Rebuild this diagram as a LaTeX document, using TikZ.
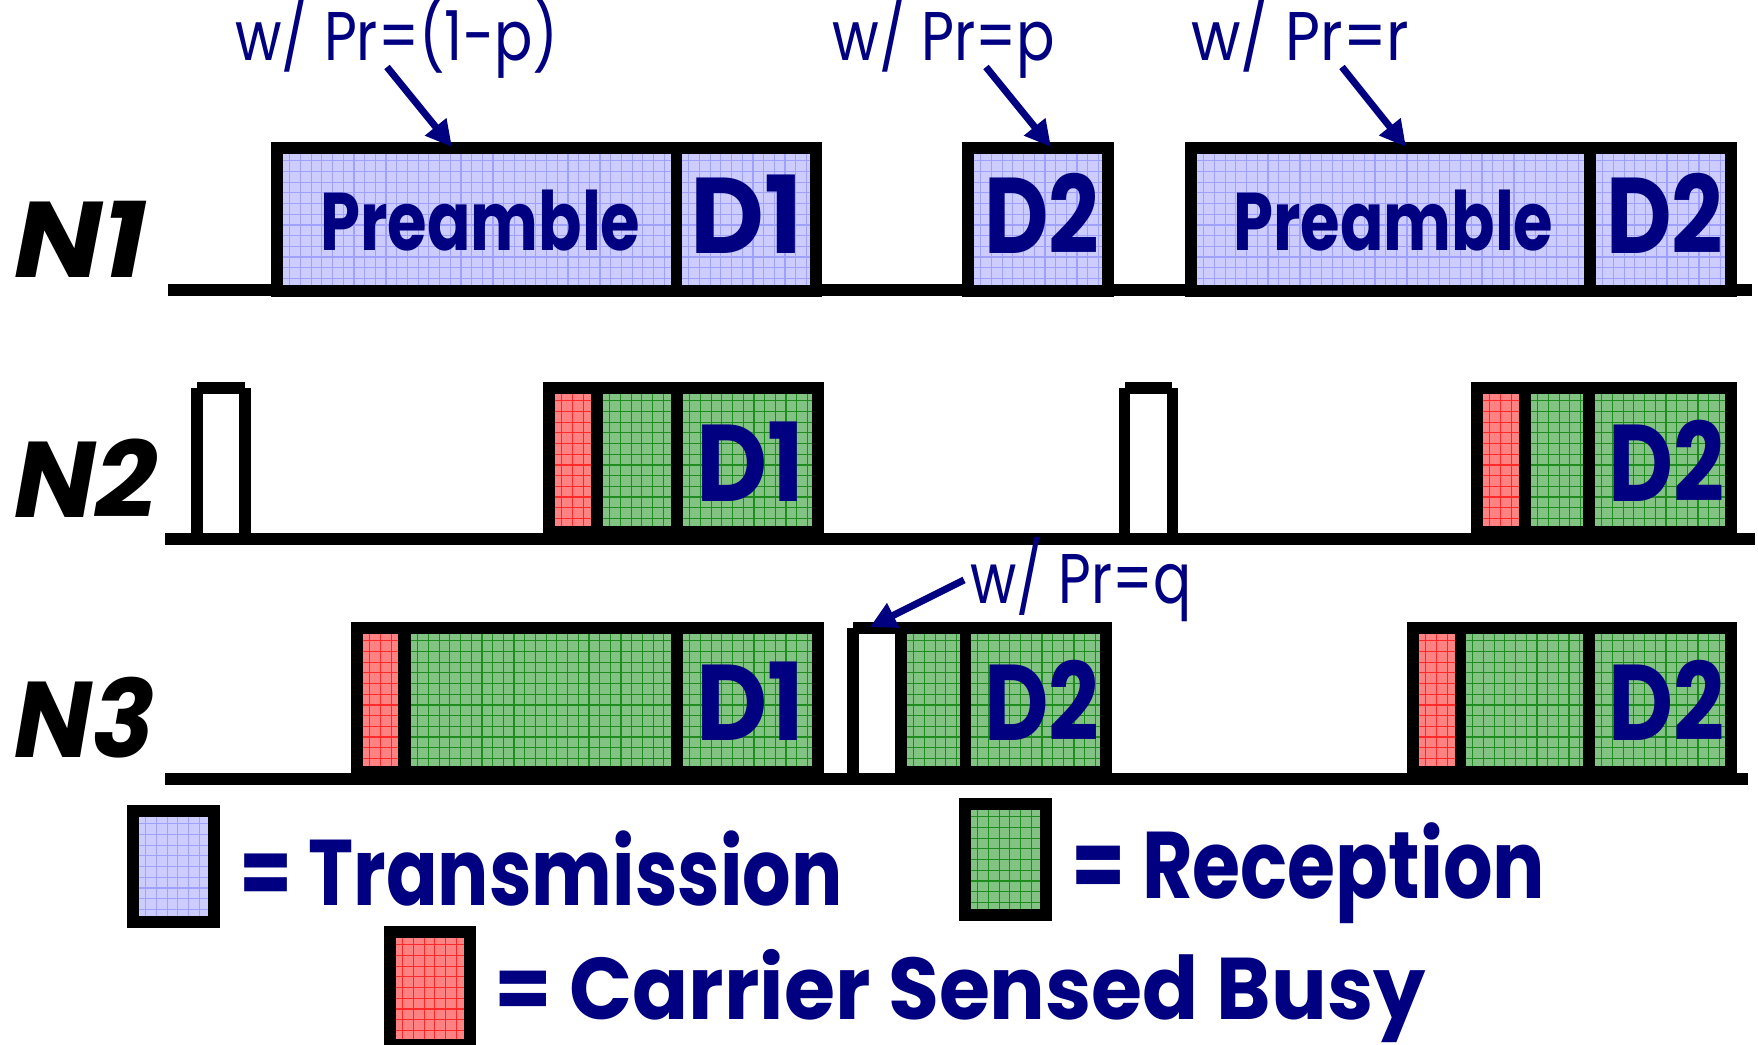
\documentclass[tikz,border=0pt]{standalone}
\usepackage{fontspec}
\setmainfont{Poppins}
\usepackage{graphicx}
\usetikzlibrary{arrows.meta}
\definecolor{navy}{RGB}{0,0,128}
\definecolor{txfill}{RGB}{204,204,255}
\definecolor{txline}{RGB}{160,160,255}
\definecolor{rxfill}{RGB}{130,194,130}
\definecolor{rxline}{RGB}{30,140,30}
\definecolor{csfill}{RGB}{255,130,130}
\definecolor{csline}{RGB}{255,40,40}

\newcommand\fitt[3]{\resizebox{#1}{#2}{\smash{#3}\vphantom{H}}}
% grid-filled cell: x1 y1 x2 y2 kind(tx/rx/cs)
\newcommand\cell[5]{%
  \fill[#5fill] (#1,#2) rectangle (#3,#4);
  \begin{scope}
    \clip (#1,#2) rectangle (#3,#4);
    \foreach \k in {1,...,50}{\pgfmathsetmacro\gx{#1+\k*10.7-4}\draw[#5line,line width=0.6pt] (\gx,#2) -- (\gx,#4);}
    \foreach \k in {1,...,14}{\pgfmathsetmacro\gy{#2+\k*10.7-4}\draw[#5line,line width=0.6pt] (#1,\gy) -- (#3,\gy);}
  \end{scope}}
\newcommand\frm[4]{\draw[frame] (#1+6,#2+6) rectangle (#3-6,#4-6);}
\newcommand\dv[4]{\fill[black] (#1,#3) rectangle (#2,#4);}

\begin{document}
\begin{tikzpicture}[x=0.5pt,y=-0.5pt,
  frame/.style={black,line width=6pt},
  lbl/.style={inner sep=0pt,anchor=base west,text=navy},
  nlbl/.style={inner sep=0pt,anchor=base west,text=black},
  arr/.style={navy,line width=3.5pt,-{Triangle[length=13pt,width=13pt]}}]
\useasboundingbox (0,0) rectangle (1758,1045);
\fill[white] (0,0) rectangle (1758,1045);

% ---------- N1 ----------
\fill[black] (168,284) rectangle (1752,296);
\cell{283}{154}{671}{285}{tx}\cell{682}{154}{811}{285}{tx}
\frm{271}{142}{822}{297}\dv{671}{682}{142}{297}
\cell{974}{154}{1102}{285}{tx}
\frm{962}{142}{1114}{297}
\cell{1197}{154}{1584}{285}{tx}\cell{1596}{154}{1725}{285}{tx}
\frm{1185}{142}{1737}{297}\dv{1584}{1596}{142}{297}

% ---------- N2 ----------
\fill[black] (165,533) rectangle (1755,545);
\fill[black] (191,388) rectangle (203,533);
\fill[black] (239,388) rectangle (251,533);
\fill[black] (197,382) rectangle (245,394);
\cell{555}{394}{591}{526}{cs}\cell{603}{394}{671}{526}{rx}\cell{683}{394}{812}{526}{rx}
\frm{543}{382}{824}{538}\dv{591}{603}{382}{538}\dv{671}{683}{382}{538}
\fill[black] (1119,388) rectangle (1130,533);
\fill[black] (1167,388) rectangle (1178,533);
\fill[black] (1125,382) rectangle (1172,394);
\cell{1483}{394}{1519}{526}{cs}\cell{1531}{394}{1583}{526}{rx}\cell{1595}{394}{1725}{526}{rx}
\frm{1471}{382}{1737}{538}\dv{1519}{1531}{382}{538}\dv{1583}{1595}{382}{538}

% ---------- N3 ----------
\fill[black] (165,773) rectangle (1748,785);
\cell{363}{634}{398}{766}{cs}\cell{411}{634}{671}{766}{rx}\cell{683}{634}{812}{766}{rx}
\frm{351}{622}{824}{778}\dv{398}{411}{622}{778}\dv{671}{683}{622}{778}
\fill[black] (847,628) rectangle (859,773);
\fill[black] (853,622) rectangle (895,634);
\cell{907}{634}{960}{766}{rx}\cell{971}{634}{1100}{766}{rx}
\frm{895}{622}{1112}{778}\dv{960}{971}{622}{778}
\cell{1419}{634}{1455}{766}{cs}\cell{1466}{634}{1583}{766}{rx}\cell{1595}{634}{1725}{766}{rx}
\frm{1407}{622}{1737}{778}\dv{1455}{1466}{622}{778}\dv{1583}{1595}{622}{778}

% ---------- legend boxes ----------
\cell{139}{817}{208}{916}{tx}\frm{127}{805}{220}{928}
\cell{971}{810}{1040}{909}{rx}\frm{959}{798}{1052}{921}
\cell{396}{938}{464}{1039}{cs}\frm{384}{926}{476}{1051}

% ---------- row labels ----------
\node[nlbl] (n1) at (14,277) {\fitt{66pt}{37.5pt}{\bfseries\itshape N1}};
\node[nlbl] (n2) at (14,517) {\fitt{71.5pt}{37.5pt}{\bfseries\itshape N2}};
\node[nlbl] (n3) at (14,757) {\fitt{70pt}{37.5pt}{\bfseries\itshape N3}};

% ---------- box texts ----------
\node[lbl] (pre1) at (320,250) {\fitt{160pt}{28.5pt}{\bfseries Preamble}};
\node[lbl] (d1a) at (690,253) {\fitt{56pt}{37.5pt}{\bfseries D1}};
\node[lbl] (d2a) at (984,253) {\fitt{57.5pt}{37.5pt}{\bfseries D2}};
\node[lbl] (pre2) at (1233,250) {\fitt{160pt}{28.5pt}{\bfseries Preamble}};
\node[lbl] (d2b) at (1606,253) {\fitt{58.5pt}{37.5pt}{\bfseries D2}};
\node[lbl] (d1b) at (696,501) {\fitt{54pt}{38pt}{\bfseries D1}};
\node[lbl] (d2c) at (1608,501) {\fitt{58pt}{38pt}{\bfseries D2}};
\node[lbl] (d1c) at (696,740) {\fitt{54pt}{37.5pt}{\bfseries D1}};
\node[lbl] (d2d) at (984,740) {\fitt{57.5pt}{37.5pt}{\bfseries D2}};
\node[lbl] (d2e) at (1608,740) {\fitt{58pt}{37.5pt}{\bfseries D2}};

% ---------- probability labels and arrows ----------
\node[lbl] (p1) at (235,60) {\fitt{161.5pt}{24pt}{w/ Pr=(1-p)}};
\node[lbl] (p2) at (832,60) {\fitt{111.5pt}{24pt}{w/ Pr=p}};
\node[lbl] (p3) at (1191,60) {\fitt{109pt}{24pt}{w/ Pr=r}};
\node[lbl] (p4) at (970,603) {\fitt{110.5pt}{24.5pt}{w/ Pr=q}};
\coordinate (a1s) at (387,67);  \coordinate (a1e) at (452,147);
\coordinate (a2s) at (986,67);  \coordinate (a2e) at (1051,147);
\coordinate (a3s) at (1342,67); \coordinate (a3e) at (1406,147);
\coordinate (a4s) at (964,580); \coordinate (a4e) at (870,627);
\draw[arr] (a1s) -- (a1e);
\draw[arr] (a2s) -- (a2e);
\draw[arr] (a3s) -- (a3e);
\draw[arr] (a4s) -- (a4e);

% ---------- legend texts ----------
\node[lbl] (ltx) at (239,905) {\fitt{301.5pt}{32.5pt}{\bfseries = Transmission}};
\node[lbl] (lrx) at (1071,898) {\fitt{237pt}{33pt}{\bfseries = Reception}};
\node[lbl] (lcs) at (494,1019) {\fitt{465.5pt}{30.5pt}{\bfseries = Carrier Sensed Busy}};
\end{tikzpicture}
\end{document}
